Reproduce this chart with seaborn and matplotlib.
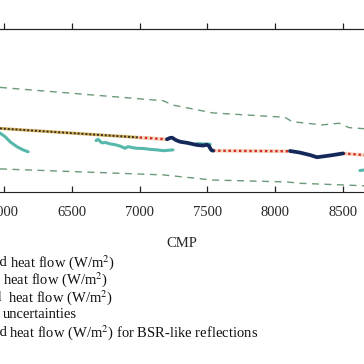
import numpy as np
import pandas as pd
import matplotlib
matplotlib.use('Agg')
import matplotlib.pyplot as plt
import seaborn as sns

# heat flow along the profile (W/m^2) vs CMP
cmp_upper = [5970, 7173, 7246, 7541, 8072, 8124, 8345, 8471, 8544, 8655]
hf_upper = [0.0685, 0.0636, 0.0620, 0.0591, 0.0575, 0.0559, 0.0547, 0.0553, 0.0537, 0.0533]

cmp_lower = [5970, 7173, 7541, 8087, 8183, 8655]
hf_lower = [0.0385, 0.0363, 0.0344, 0.0337, 0.0332, 0.0323]

cmp_model = [5970, 7202]
hf_model = [0.0534, 0.0494]

cmp_interp = [7000, 7202, 7541, 8109, 8500, 8655]
hf_interp = [0.05005, 0.0494, 0.0452, 0.0450, 0.0442, 0.0436]
seg_interp = [0, 0, 1, 1, 2, 2]

cmp_obs = [5970, 6007, 6044, 6094, 6140, 6177,
           6679, 6693, 6721, 6750, 6782, 6820, 6856, 6892, 6915, 6950, 6979, 7030, 7077, 7130, 7173, 7246,
           7420, 7520,
           8625, 8655]
hf_obs = [0.0517, 0.0504, 0.0485, 0.0467, 0.0455, 0.0448,
          0.0489, 0.0494, 0.0481, 0.0482, 0.0477, 0.0474, 0.0469, 0.0461, 0.0467, 0.0463, 0.0461, 0.0460, 0.0457, 0.0455, 0.0452, 0.0455,
          0.0478, 0.0476,
          0.0379, 0.0381]
seg_obs = [0] * 6 + [1] * 16 + [2] * 2 + [3] * 2

cmp_bsr = [7202, 7224, 7239, 7268, 7298, 7350, 7423, 7468, 7497, 7512, 7527, 7541,
           8109, 8183, 8257, 8308, 8353, 8426, 8500]
hf_bsr = [0.0494, 0.0499, 0.0500, 0.0491, 0.0485, 0.0481, 0.0473, 0.0471, 0.0474, 0.0469, 0.0455, 0.0452,
          0.0451, 0.0445, 0.0436, 0.0428, 0.0431, 0.0436, 0.0442]
seg_bsr = [0] * 12 + [1] * 7

xticks = [6000, 6500, 7000, 7500, 8000, 8500]

sns.set_style('ticks')
plt.rcParams['font.family'] = ['Liberation Serif', 'DejaVu Serif']
plt.rcParams['mathtext.fontset'] = 'stix'

fig = plt.figure(figsize=(3.64, 3.64), dpi=100)
ax = fig.add_axes([0, 1 - 192 / 364, 1, 163 / 364])

df_obs = pd.DataFrame({'cmp': cmp_obs, 'hf': hf_obs, 'seg': seg_obs})
df_bsr = pd.DataFrame({'cmp': cmp_bsr, 'hf': hf_bsr, 'seg': seg_bsr})
df_int = pd.DataFrame({'cmp': cmp_interp, 'hf': hf_interp, 'seg': seg_interp})

# uncertainties
sns.lineplot(x=cmp_upper, y=hf_upper, ax=ax, color='#6a9a78', lw=1.0, ls=(0, (5, 4)))
sns.lineplot(x=cmp_lower, y=hf_lower, ax=ax, color='#6a9a78', lw=1.0, ls=(0, (5, 4)))

# observed
sns.lineplot(data=df_obs, x='cmp', y='hf', units='seg', estimator=None, sort=False,
             ax=ax, color='#56b8aa', lw=2.2)

# modelled trend
sns.lineplot(x=cmp_model, y=hf_model, ax=ax, color='#d2b060', lw=2.2)
sns.lineplot(x=[5970, 7000], y=[0.0534, 0.05005], ax=ax, color='#3a3020', lw=1.4, ls=(0, (1, 1)))

# interpolated
sns.lineplot(data=df_int, x='cmp', y='hf', units='seg', estimator=None, sort=False,
             ax=ax, color='#f6d6c0', lw=2.6)
sns.lineplot(data=df_int, x='cmp', y='hf', units='seg', estimator=None, sort=False,
             ax=ax, color='#d42a22', lw=1.7, ls=(0, (1, 1.2)))

# BSR
sns.lineplot(data=df_bsr, x='cmp', y='hf', units='seg', estimator=None, sort=False,
             ax=ax, color='#14285a', lw=2.7)

ax.set_xlim(5970, 8655)
ax.set_ylim(0.03, 0.09)
ax.set_xticks(xticks)
ax.set_xticklabels([str(t) for t in xticks], fontsize=10.5)
ax.set_yticks([])
ax.set_xlabel('CMP', fontsize=10.5, labelpad=13)
ax.set_ylabel('')
ax.tick_params(axis='x', direction='in', length=4, width=0.9, color='#222222', pad=10)
for s in ['left', 'right']:
    ax.spines[s].set_visible(False)
ax.spines['bottom'].set_color('#222222')
ax.spines['top'].set_color('#222222')

ax2 = ax.twiny()
ax2.set_xlim(ax.get_xlim())
ax2.set_xticks(xticks)
ax2.tick_params(axis='x', direction='out', length=4.5, width=0.9, color='#222222', labeltop=False)
for s in ['left', 'right', 'bottom']:
    ax2.spines[s].set_visible(False)
ax2.spines['top'].set_color('#222222')

# legend rows (cut off on the left in the original)
rows = [
    (263, 'Modelled', 7, 'heat flow (W/m$^2$)', 10, 'normal'),
    (280, 'Observed', 0, 'heat flow (W/m$^2$)', 3, 'normal'),
    (297.5, 'Regional', 2, 'heat flow (W/m$^2$)', 8, 'bold'),
    (315, 'Heat flow', 0, 'uncertainties', 3, 'normal'),
    (333, 'Predicted', 7, 'heat flow (W/m$^2$) for BSR-like reflections', 9, 'normal'),
]
for py, prefix, px_end, text, px_start, weight in rows:
    fig.text(px_end / 364, 1 - py / 364, prefix, ha='right', va='center',
             fontsize=10.5, fontweight=weight, color='#111111')
    fig.text(px_start / 364, 1 - py / 364, text, ha='left', va='center',
             fontsize=10.5, color='#111111')

fig.savefig('out.png', dpi=100)
